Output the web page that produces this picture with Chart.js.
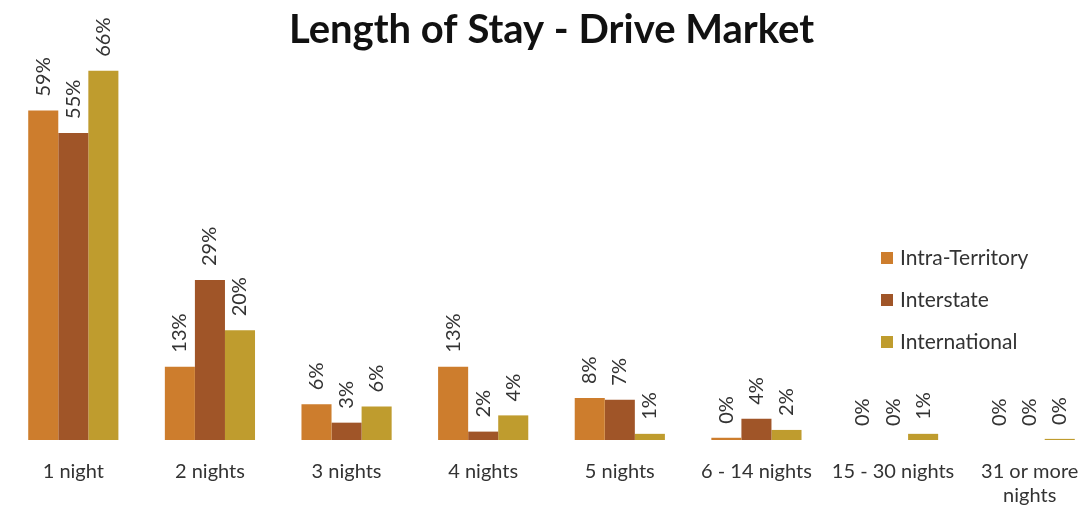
<!DOCTYPE html>
<html>
<head>
<meta charset="utf-8">
<script src="https://cdn.jsdelivr.net/npm/chart.js@4.4.1/dist/chart.umd.min.js"></script>
<style>
  html, body { margin: 0; padding: 0; background: #fff; overflow: hidden; }
  #wrap { width: 1100px; height: 511px; position: relative; }
</style>
</head>
<body>
<div id="wrap"><canvas id="stayChart" width="1100" height="511"></canvas></div>
<script>
// categories and series (percent of visitors)
const categories = ['1 night', '2 nights', '3 nights', '4 nights', '5 nights', '6 - 14 nights', '15 - 30 nights', ['31 or more', 'nights']];
const intraTerritory = [58.9, 13.1, 6.4, 13.1, 7.5, 0.4, 0, 0];
const interstate = [54.9, 28.6, 3.1, 1.5, 7.2, 3.8, 0, 0];
const international = [66, 19.6, 6.0, 4.4, 1.1, 1.8, 1.1, 0.2];

const intraColor = '#cd7d2d';
const interColor = '#a05528';
const intlColor = '#bf9c2e';
const labelFont = 'Lato, "Open Sans", sans-serif';

// labels rotated above each bar
const barLabels = {
  id: 'barLabels',
  afterDatasetsDraw(chart) {
    const ctx = chart.ctx;
    ctx.save();
    ctx.font = '20px ' + labelFont;
    ctx.fillStyle = '#333';
    ctx.textAlign = 'left';
    ctx.textBaseline = 'middle';
    chart.data.datasets.forEach((ds, i) => {
      chart.getDatasetMeta(i).data.forEach((bar, j) => {
        ctx.save();
        ctx.translate(bar.x, bar.y - 14);
        ctx.rotate(-Math.PI / 2);
        ctx.fillText(Math.round(ds.data[j]) + '%', 0, 0);
        ctx.restore();
      });
    });
    ctx.restore();
  }
};

// legend drawn on the right, stacked
const sideLegend = {
  id: 'sideLegend',
  afterDraw(chart) {
    const ctx = chart.ctx;
    ctx.save();
    ctx.font = '21px ' + labelFont;
    ctx.textBaseline = 'middle';
    chart.data.datasets.forEach((ds, i) => {
      const y = 258 + i * 42;
      ctx.fillStyle = ds.backgroundColor;
      ctx.fillRect(881, y - 6, 12, 12);
      ctx.fillStyle = '#333';
      ctx.fillText(ds.label, 900, y);
    });
    ctx.restore();
  }
};

new Chart(document.getElementById('stayChart'), {
  type: 'bar',
  data: {
    labels: categories,
    datasets: [
      { label: 'Intra-Territory', data: intraTerritory, backgroundColor: intraColor },
      { label: 'Interstate', data: interstate, backgroundColor: interColor },
      { label: 'International', data: international, backgroundColor: intlColor }
    ]
  },
  options: {
    responsive: false,
    animation: false,
    devicePixelRatio: 1,
    layout: { padding: { left: 5, right: 2, top: 0, bottom: 0 } },
    datasets: { bar: { categoryPercentage: 0.66, barPercentage: 1.0 } },
    plugins: {
      legend: { display: false },
      tooltip: { enabled: false },
      title: {
        display: true,
        text: 'Length of Stay - Drive Market',
        color: '#111',
        font: { family: labelFont, size: 40, weight: 'bold' },
        padding: { top: 6, bottom: 0 }
      }
    },
    scales: {
      x: {
        grid: { display: false, drawTicks: false },
        border: { display: false },
        ticks: { color: '#333', font: { family: labelFont, size: 20 }, padding: 20, maxRotation: 0, autoSkip: false },
        afterFit(scale) { scale.height = 71; }
      },
      y: { display: false, min: 0, max: 69 }
    }
  },
  plugins: [barLabels, sideLegend]
});
</script>
</body>
</html>
